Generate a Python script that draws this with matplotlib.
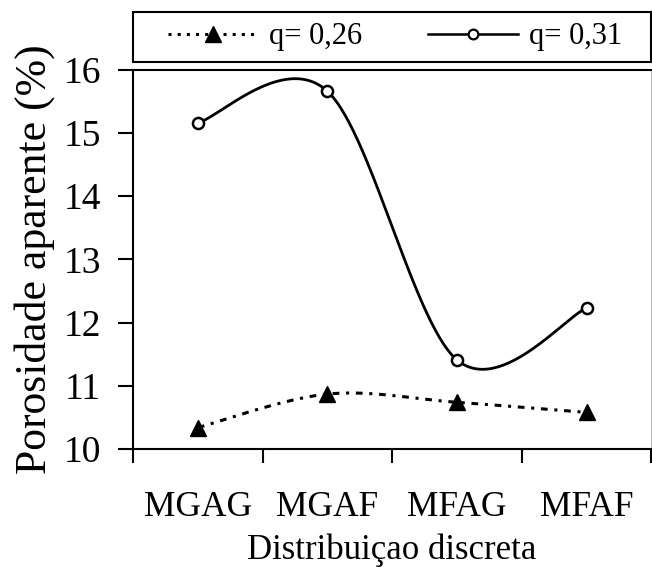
import numpy as np
import matplotlib
matplotlib.use("Agg")
import matplotlib.pyplot as plt
from matplotlib.patches import Rectangle

categorias = ["MGAG", "MGAF", "MFAG", "MFAF"]
q026 = [10.34, 10.87, 10.74, 10.58]
q031 = [15.16, 15.66, 11.41, 12.23]
rotulos = ["q= 0,26", "q= 0,31"]


def suaviza(x, y, n=60):
    # curva suavizada tipo Excel (Bezier com pontos de controle Catmull-Rom)
    x = np.asarray(x, float)
    y = np.asarray(y, float)
    px, py = [], []
    m = len(x)
    for i in range(m - 1):
        a = max(i - 1, 0)
        d = min(i + 2, m - 1)
        c1x = x[i] + (x[i + 1] - x[a]) / 6
        c1y = y[i] + (y[i + 1] - y[a]) / 6
        c2x = x[i + 1] - (x[d] - x[i]) / 6
        c2y = y[i + 1] - (y[d] - y[i]) / 6
        t = np.linspace(0, 1, n)
        b0 = (1 - t) ** 3
        b1 = 3 * (1 - t) ** 2 * t
        b2 = 3 * (1 - t) * t ** 2
        b3 = t ** 3
        px.append(b0 * x[i] + b1 * c1x + b2 * c2x + b3 * x[i + 1])
        py.append(b0 * y[i] + b1 * c1y + b2 * c2y + b3 * y[i + 1])
    return np.concatenate(px), np.concatenate(py)


plt.rcParams["font.family"] = "Liberation Serif"

fig = plt.figure(figsize=(6.52, 5.67), dpi=100)
ax = fig.add_axes([0.204, 0.208, 0.795, 0.669])

x = np.arange(1, len(categorias) + 1)

sx, sy = suaviza(x, q026)
ax.plot(sx, sy, color="black", lw=2.2, ls=(0, (2.2, 2.2, 1, 2.2)))
ax.plot(x, q026, ls="none", marker="^", ms=11, color="black")

sx, sy = suaviza(x, q031)
ax.plot(sx, sy, color="black", lw=2)
ax.plot(x, q031, ls="none", marker="o", ms=8, mfc="white", mec="black", mew=1.8)

# legenda sem moldura + caixa desenhada à parte
h1 = plt.Line2D([], [], color="black", lw=2.2, ls=(0, (1, 2)), marker="^", ms=11)
h2 = plt.Line2D([], [], color="black", lw=1.8, marker="o", ms=7, mfc="white", mew=1.6)
leg = ax.legend([h1, h2], rotulos, loc="center left", bbox_to_anchor=(0.068, 1.087),
                ncol=2, fontsize=22, frameon=False, handlelength=2.95,
                handletextpad=0.35, borderpad=0, borderaxespad=0, columnspacing=2.15)
ax.add_patch(Rectangle((0, 1.021), 1.0, 0.132, transform=ax.transAxes, fill=False,
                       edgecolor="black", lw=1.5, clip_on=False))

ax.set_xlim(0.5, 4.5)
ax.set_ylim(10, 16)
ax.set_yticks(range(10, 17))
ax.set_xticks([0.5, 1.5, 2.5, 3.5, 4.5])
ax.set_xticklabels([])
ax.set_xticks(x, minor=True)
ax.set_xticklabels(categorias, minor=True)
ax.tick_params(axis="x", which="major", direction="out", length=10, width=1.5)
ax.tick_params(axis="x", which="minor", length=0, pad=30, labelsize=25.5)
ax.tick_params(axis="y", direction="out", length=11, width=1.5, labelsize=27, pad=12)

for lado in ["left", "bottom", "top"]:
    ax.spines[lado].set_linewidth(1.5)
ax.spines["right"].set_color("#bbbbbb")

ax.set_ylabel("Porosidade aparente (%)", fontsize=31.5, labelpad=6)
ax.set_xlabel("Distribuiçao discreta", fontsize=25, labelpad=7)

fig.savefig("out.png", dpi=100)
